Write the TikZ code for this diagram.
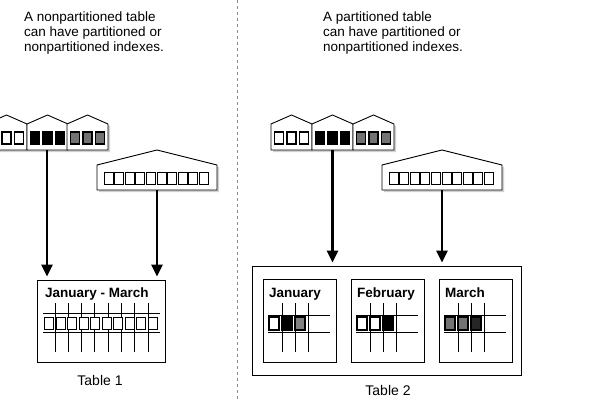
\documentclass[tikz,border=0pt]{standalone}
\usepackage{fontspec}
\setmainfont{Liberation Sans}
\usetikzlibrary{arrows.meta}

\begin{document}
\begin{tikzpicture}
  [x=1pt,y=-1pt,every node/.style={inner sep=0pt},
   note/.style={anchor=north west,align=left,font=\fontsize{13.5}{15}\selectfont},
   boxlabel/.style={anchor=base west,font=\fontsize{13.5}{15}\selectfont\bfseries},
   tablebox/.style={draw,line width=1pt},
   house/.style={draw,line width=0.9pt,fill=white},
   shade/.style={fill=black!18,draw=none},
   cell/.style={draw,line width=1.1pt},
   grid/.style={line width=0.9pt},
   arr/.style={line width=2.6pt,shorten >=3pt,-{Triangle[width=11pt,length=12pt]}}]
  \useasboundingbox (0,0) rectangle (600,400);
  \draw[black!45,dash pattern=on 3pt off 3pt] (237,0) -- (237,400);

  \node[note] (t1) at (24,12) {A nonpartitioned table\\can have partitioned or\\nonpartitioned indexes.};
  \node[note] (t2) at (323,12) {A partitioned table\\can have partitioned or\\nonpartitioned indexes.};

  % partitioned indexes
  \foreach \l in {-14,27,67,271,312,353}
    \fill[shade] (\l+2,152) -- (\l+2,126) -- ++(20.5,-9) -- ++(20.5,9) -- ++(0,26) -- cycle;
  \foreach \l/\c in {-14/white,27/black,67/black!55,271/white,312/black,353/black!55}
  {
    \draw[house] (\l,150) -- (\l,124) -- ++(20.5,-9) -- ++(20.5,9) -- ++(0,26) -- cycle;
    \foreach \k in {0,1,2}
      \draw[cell,fill=\c] (\l+3.5+12.5*\k,132) rectangle ++(9,12);
  }
  % nonpartitioned indexes
  \foreach \l in {97,382}
  {
    \fill[shade] (\l+2,192) -- (\l+2,167) -- ++(60,-15) -- ++(60,15) -- ++(0,25) -- cycle;
    \draw[house] (\l,190) -- (\l,165) -- ++(60,-15) -- ++(60,15) -- ++(0,25) -- cycle;
    \foreach \k in {0,...,9}
      \draw[cell,line width=1pt,fill=white] (\l+7+10.6*\k,172) rectangle ++(9,12.5);
  }
  \coordinate (p1) at (47,150);
  \coordinate (g1) at (157,190);
  \coordinate (p2) at (332.5,150);
  \coordinate (g2) at (442,190);

  % Table 1
  \node[tablebox,minimum width=128pt,minimum height=82pt] (tab1) at (101,321) {};
  \node[boxlabel] (c1) at (45,297) {January - March};
  \foreach \k in {0,...,7}
    \draw[grid] (55+13.3*\k,303) -- ++(0,49);
  \draw[grid] (43,313) -- (160,313) (43,332) -- (160,332);
  \foreach \k in {0,...,9}
    \draw[cell,line width=1pt,fill=white] (44.5+11.5*\k,317) rectangle ++(9,12);
  \node (l1) at (100,380) {\fontsize{14}{16}\selectfont Table 1};

  % Table 2
  \node[tablebox,minimum width=269pt,minimum height=109pt] (tab2) at (386.5,320.5) {};
  \foreach \n/\l/\a/\b/\c/\m in {jan/263/white/black/black!50/January,
      feb/351/white/white/black/February, mar/439/black!55/black!55/black!85/March}
  {
    \node[tablebox,minimum width=73pt,minimum height=83pt] (\n) at (\l+36.5,320.5) {};
    \node[boxlabel] at (\l+6,297) {\m};
    \foreach \k in {19,32,45}
      \draw[grid] (\l+\k,303) -- ++(0,49);
    \draw[grid] (\l+5,315) -- ++(62,0) (\l+5,332) -- ++(62,0);
    \draw[cell,fill=\a] (\l+6,317) rectangle ++(10,13);
    \draw[cell,fill=\b] (\l+19,317) rectangle ++(10,13);
    \draw[cell,fill=\c] (\l+32,317) rectangle ++(10,13);
  }
  \node (l2) at (388,390) {\fontsize{14}{16}\selectfont Table 2};

  \foreach \from/\to in {p1/tab1, g1/tab1, p2/tab2, g2/tab2}
    \draw[arr] (\from) -- (\from |- \to.north);
\end{tikzpicture}
\end{document}
